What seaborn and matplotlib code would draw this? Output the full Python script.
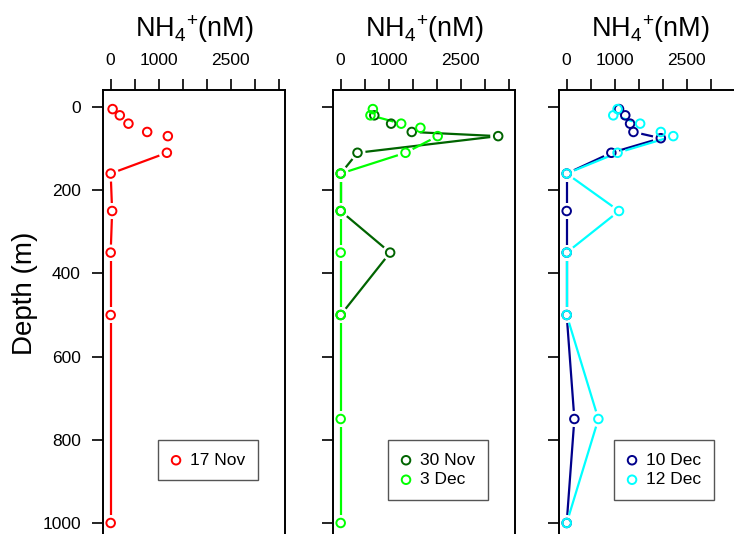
import matplotlib
matplotlib.use("Agg")
import matplotlib.pyplot as plt
import numpy as np
import seaborn as sns

# NH4+ (nM) profiles against depth (m)
depth_17nov = [5, 20, 40, 60, 70, 110, 160, 250, 350, 500, 1000]
nh4_17nov = [40, 190, 370, 760, 1190, 1170, 0, 30, 0, 0, 0]

depth_30nov = [20, 40, 60, 70, 110, 160, 250, 350, 500]
nh4_30nov = [700, 1050, 1480, 3280, 350, 0, 0, 1030, 0]

depth_3dec = [5, 20, 40, 50, 70, 110, 160, 250, 350, 500, 750, 1000]
nh4_3dec = [670, 620, 1260, 1660, 2020, 1350, 0, 0, 0, 0, 0, 0]

depth_10dec = [5, 20, 40, 60, 75, 110, 160, 250, 350, 500, 750, 1000]
nh4_10dec = [1090, 1220, 1320, 1390, 1960, 930, 0, 0, 0, 0, 160, 0]

depth_12dec = [5, 20, 40, 60, 70, 110, 160, 250, 350, 500, 750, 1000]
nh4_12dec = [1060, 970, 1530, 1960, 2220, 1060, 0, 1090, 0, 0, 660, 0]

panels = [
    [("17 Nov", nh4_17nov, depth_17nov, "#FF0000")],
    [("30 Nov", nh4_30nov, depth_30nov, "#006400"),
     ("3 Dec", nh4_3dec, depth_3dec, "#00FF00")],
    [("10 Dec", nh4_10dec, depth_10dec, "#00008B"),
     ("12 Dec", nh4_12dec, depth_12dec, "#00FFFF")],
]

x_ticks = [0, 500, 1000, 1500, 2000, 2500, 3000, 3500]
x_ticklabels = ["0", "", "1000", "", "", "2500", "", ""]
y_ticks = [0, 200, 400, 600, 800, 1000]

sns.set_style("ticks")
plt.rcParams["font.family"] = ["Liberation Sans", "DejaVu Sans"]
plt.rcParams["mathtext.fontset"] = "custom"
plt.rcParams["mathtext.rm"] = "Liberation Sans"
plt.rcParams["text.color"] = "black"


def gapped_line(ax, x, y, color, gap=8.0, min_len=23.0):
    # R type="b" style: segments stop short of each point, short ones vanish
    pts = ax.transData.transform(np.column_stack([x, y]))
    inv = ax.transData.inverted()
    for p, q in zip(pts[:-1], pts[1:]):
        d = q - p
        length = np.hypot(*d)
        if length < min_len:
            continue
        u = d / length
        seg = inv.transform([p + u * gap, q - u * gap])
        ax.plot(seg[:, 0], seg[:, 1], color=color, lw=1.6, solid_capstyle="butt")


W, H = 734, 534
fig = plt.figure(figsize=(W / 100, H / 100), dpi=100)
lefts = [103, 333, 559]
ax_w, top, bottom = 182, 90, 560

for i, (left, series) in enumerate(zip(lefts, panels)):
    ax = fig.add_axes([left / W, 1 - bottom / H, ax_w / W, (bottom - top) / H])
    ax.set_xlim(-160, 3630)
    ax.set_ylim(1089, -40.9)
    ax.xaxis.tick_top()
    ax.set_xticks(x_ticks)
    ax.set_xticklabels(x_ticklabels)
    ax.set_yticks(y_ticks)
    if i > 0:
        ax.set_yticklabels([])
    ax.tick_params(axis="both", direction="out", length=8, width=1.2,
                   pad=8, labelsize=12.5, colors="black")
    for s in ax.spines.values():
        s.set_visible(True)
        s.set_linewidth(1.4)
        s.set_color("black")

    for label, x, y, c in series:
        gapped_line(ax, x, y, c)
        sns.scatterplot(x=x, y=y, ax=ax, marker="o", s=38, facecolors="none",
                        edgecolors=c, linewidths=1.4, label=label, zorder=3)
    ax.set_xlabel("")
    ax.set_ylabel("")

    leg = ax.legend(loc="upper left", bbox_to_anchor=(0.304, 0.255),
                    borderaxespad=0, fancybox=False, framealpha=1,
                    edgecolor="#555555", fontsize=12.5, handlelength=0.6,
                    handletextpad=0.5, borderpad=0.72, labelspacing=0.25)
    leg.get_frame().set_linewidth(1.0)

    ax.text(0.5, 1 + 53 / (bottom - top), r"NH$_\mathregular{4}$$^\mathregular{+}$(nM)",
            transform=ax.transAxes, ha="center", va="baseline", fontsize=19.5)

fig.text(25 / W, 1 - 293 / H, "Depth (m)", rotation=90, ha="center",
         va="center", fontsize=20)

fig.savefig("out.png", dpi=100)
